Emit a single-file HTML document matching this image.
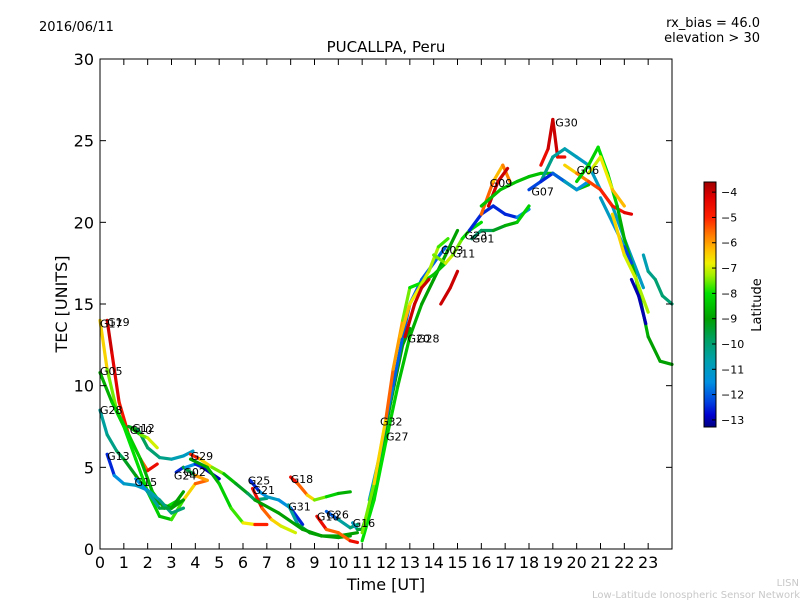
<!DOCTYPE html>
<html><head><meta charset="utf-8"><style>
body{margin:0;background:#fff;}
svg text{font-family:"DejaVu Sans","Liberation Sans",sans-serif;}
</style></head><body>
<svg id="chart" width="800" height="600" xmlns="http://www.w3.org/2000/svg">
<defs><linearGradient id="jetg" x1="0" y1="1" x2="0" y2="0"></linearGradient></defs>
<text x="39" y="31" font-size="13">2016/06/11</text>
<text x="760" y="27" font-size="13" text-anchor="end">rx_bias = 46.0</text>
<text x="760" y="42" font-size="13" text-anchor="end">elevation &gt; 30</text>
<text x="386" y="52" font-size="15" text-anchor="middle">PUCALLPA, Peru</text>
<text x="386" y="590" font-size="16" text-anchor="middle">Time [UT]</text>
<text x="0" y="0" font-size="16" text-anchor="middle" transform="translate(67,304) rotate(-90)">TEC [UNITS]</text>
<text x="0" y="0" font-size="13" text-anchor="middle" transform="translate(761,305) rotate(-90)">Latitude</text>
<text x="799" y="586" font-size="10" fill="#c8c8c8" text-anchor="end">LISN</text>
<text x="800" y="598" font-size="10" fill="#c8c8c8" text-anchor="end">Low-Latitude Ionospheric Sensor Network</text>
<g id="plot"></g>
<rect x="100" y="59" width="572" height="490" fill="none" stroke="#000" stroke-width="1"/>
<g id="axes"></g>
<rect x="704" y="182" width="12" height="245" fill="url(#jetg)" stroke="#000" stroke-width="1"/>
<g id="cbticks"></g>
</svg>
<script>
const xTicks=[0,1,2,3,4,5,6,7,8,9,10,11,12,13,14,15,16,17,18,19,20,21,22,23];
const yTicks=[0,5,10,15,20,25,30];
const cbTicks=[-4,-5,-6,-7,-8,-9,-10,-11,-12,-13];
const trackNames=["G19","G17","G05","G28","G13","G12","G10","G15","G24","G02","G29","Gx1","G25","G21","G31","G18","Gx2","G10b","G26","G16","G32","G27","Gx3","G20","G03","Gx4","Gx5","G23","G01","G09","Gx6","Gx7","G30","Gx8","Gx9","G06","Gx10","Gx11","Gx12","Gx13","Gx14","Gx15"];
const trackTimes=[
[0.3,0.5,0.8,1.2,1.7,2.0,2.4],
[0,0.3,0.7,1.2,1.7,2.2,2.7,3.3],
[0,0.5,1,1.5,2,2.5,3,3.5,4,4.5],
[0,0.3,0.7,1,1.5,2,2.5,3,3.5],
[0.3,0.6,1,1.5,2,2.5,3,3.5],
[1.2,1.6,2,2.5,3,3.5,3.9],
[1.3,1.7,2.0,2.4],
[1.5,2,2.5,3,3.5],
[3.2,3.5,4,4.5],
[3.6,4,4.3,5],
[3.8,4.2,4.7,5.2,5.7,6.2,6.5,7],
[3.8,4.5,5,5.5,6,6.5,7],
[6.3,6.7,7,7.5,8,8.5],
[6.4,6.8,7.2,7.6,8.2],
[7.9,8.3,8.8,9.3,10,10.5],
[8.0,8.3,8.7,9,9.5,10,10.5],
[6.5,7.5,8.5,9.3,10,10.8],
[9.1,9.5,10,10.5,10.8],
[9.5,10,10.5,10.8],
[10.6,10.8,11,11.4,11.8,12.2,12.7,13.0],
[11.3,11.7,12,12.3,12.7,13,13.5,14,14.5],
[11,11.5,12,12.5,13,13.5,14,14.5,15],
[11,11.5,12,12.3,12.7,13,13.5,14,14.5],
[12.6,13,13.4,13.8,14.2,14.6],
[14,14.5,14.8,15.2,15.5,16],
[12.8,13.2,13.5,13.8],
[14.3,14.7,15],
[15.5,16,16.5,17,17.5,18],
[15.6,16,16.5,17,17.5,18],
[16,16.5,16.9,17.2],
[16.3,16.7,17.1],
[16,16.8,17.5,18,18.5,19,19.5,20,20.5],
[18.5,18.8,19,19.2,19.5],
[18.5,19,19.5,20,20.5,21,21.5,22,22.8],
[18,18.5,19,19.5,20,20.5],
[19.5,20,20.5,21,21.5,22,22.3],
[20,20.5,20.9,21.3,21.7,22,22.5,23,23.5,24],
[20.5,21,21.5,22],
[21,21.5,22,22.3],
[22.8,23,23.3,23.6,24],
[21.5,22,22.5,23],
[22.3,22.6,22.9]];
const trackTec=[
[14,12,9,7,5.5,4.8,5.2],
[14,11,8.5,7,5.5,3.5,2.5,3],
[10.8,9,7.5,5.5,3.5,2,1.8,3,4,4.2],
[8.5,7,6,5.5,4.5,3.5,2.8,2.5,3],
[5.8,4.5,4,3.9,3.6,3.0,2.2,2.5],
[7.5,7.3,6.2,5.6,5.5,5.7,6],
[7.4,7,6.8,6.2],
[4.3,3.5,2.5,2.5,3.5],
[4.7,5,4.5,4.2],
[5,5.2,5,4.3],
[5.8,5.5,5,4.6,4,3.4,3,3.1],
[5.5,5,4,2.5,1.6,1.5,1.5],
[4.2,3.5,3.2,3,2.5,1.5],
[3.7,2.5,1.8,1.4,1.0],
[2.7,1.5,1.0,0.8,0.7,0.8],
[4.4,4,3.3,3,3.2,3.4,3.5],
[3,2.2,1.2,0.8,0.8,1],
[2,1.2,1.0,0.5,0.4],
[2.3,1.8,1.3,1.5],
[1.6,1.2,1.2,3,6,9,12.5,13.5],
[3,5.5,7.9,10,13,15,16.5,17.5,18.5],
[0.5,3,6.6,10,13,15,16.5,18,19.5],
[1,4,8,11,14,16,16.3,16.8,17.5],
[13,15,16,17,18.5,19],
[18,17.5,18,19,19.5,20],
[13,15,16,16.5],
[15,16,17],
[19.5,20.5,21,20.5,20.3,20.8],
[19,19.5,19.5,19.8,20,21],
[20.5,22.5,23.5,22.5],
[21,22.5,23.3],
[21,22,22.5,22.8,23,23,22.5,22,22.3],
[23.5,24.5,26.3,24,24],
[22.5,24,24.5,24,23.5,22,21,19,16],
[22,22.5,23,22.5,22,22.5],
[23.5,23,22.5,22,21,20.6,20.5],
[22.5,23.5,24.6,23,21,19,16.5,13,11.5,11.3],
[23,24,22,21],
[21.5,20,18.5,17.5],
[18,17,16.5,15.5,15],
[20.5,18,16.5,14.5],
[16.5,15.5,13.8]];
const trackLat=[
[-4,-4,-4.5,-5,-6,-5,-4],
[-6,-7,-8,-8,-8.5,-9,-8,-8],
[-9,-8.5,-8,-8,-8,-8.5,-8.5,-7,-6,-5],
[-10.5,-10.5,-10,-9.5,-9,-9,-9,-9,-9],
[-13,-12,-11,-11,-11,-10.5,-10,-10],
[-9,-9.5,-10,-10,-10.5,-11,-11],
[-9,-8,-7,-7],
[-12,-11,-10,-9,-9],
[-13,-12,-7,-5],
[-11,-12,-13,-13],
[-4,-6,-7,-8,-9,-9.5,-10,-10],
[-9,-9,-8.5,-8,-7.5,-6,-4],
[-13,-12,-11,-11,-12,-13],
[-4,-5,-6,-7,-7],
[-11,-10,-9,-9,-9,-9],
[-4,-5,-6,-7,-8,-8.5,-9],
[-9,-9,-9,-9,-9,-9],
[-4,-5,-6,-5,-4],
[-13,-11,-10,-10],
[-12,-10,-9,-9,-9,-9,-9,-9],
[-11,-11,-11.5,-12,-12,-12,-12,-12,-12],
[-8,-8,-8,-8.5,-8.5,-9,-9,-9,-9],
[-8,-7,-6,-5,-7,-8,-8,-8.5,-8.5],
[-6,-6.5,-7,-7,-7.5,-8],
[-8,-7,-7,-8,-8,-8],
[-4,-4,-4,-4],
[-4,-4,-4],
[-12,-13,-12,-13,-12,-11],
[-10,-10,-9.5,-9,-8.5,-8],
[-5,-6,-6.5,-5],
[-4,-4,-4],
[-8.5,-8.5,-8.5,-8.5,-8.5,-8.5,-8.5,-8.5,-8.5],
[-5,-4,-4,-4,-5],
[-10,-10.5,-10.5,-11,-11,-11,-11,-11,-11],
[-12.5,-12,-13,-11,-11,-12],
[-7,-6,-5.5,-5,-5,-4.5,-4],
[-8,-8.5,-8,-8,-8.5,-9,-8.5,-9,-9,-9],
[-7,-7,-6.5,-6],
[-11,-11,-12,-12.5],
[-11,-10.5,-10,-10,-10],
[-6,-7,-7,-7.5],
[-13,-13,-13]];
const labelNames=["G17","G19","G05","G28","G13","G10","G12","G15","G24","G02","G29","G25","G21","G18","G31","G10","G26","G16","G32","G27","G20","G28","G03","G11","G23","G01","G09","G07","G30","G06"];
const labelT=[0,0.3,0,0,0.3,1.25,1.35,1.45,3.1,3.5,3.8,6.2,6.4,8.0,7.9,9.1,9.5,10.6,11.75,12.0,12.9,13.3,14.3,14.8,15.3,15.6,16.35,18.1,19.1,20.0];
const labelTec=[13.8,13.9,10.9,8.5,5.7,7.3,7.4,4.1,4.5,4.7,5.7,4.2,3.6,4.3,2.6,2.0,2.1,1.6,7.8,6.9,12.9,12.9,18.3,18.1,19.2,19.0,22.4,21.9,26.1,23.2];
const cbMin=-13.28,cbMax=-3.6;
const cmapLat=[-13.3,-12.8,-12.3,-11.5,-10.7,-9.8,-9,-8,-7.3,-6.8,-6.3,-5.6,-5,-4.2,-3.6];
const cmapCol=[[0,0,128],[0,0,208],[0,64,224],[0,144,224],[0,160,176],[0,160,96],[0,160,0],[0,224,0],[160,240,0],[240,240,0],[255,192,0],[255,112,0],[255,32,0],[224,0,0],[160,0,0]];
const X=t=>100+t*572/24, Y=v=>549-v*490/30;
const CY=l=>427-(l-cbMin)*245/(cbMax-cbMin);
function jet(l){
 if(l<=cmapLat[0])return `rgb(${cmapCol[0]})`;
 for(let i=0;i<cmapLat.length-1;i++){if(l<=cmapLat[i+1]){const f=(l-cmapLat[i])/(cmapLat[i+1]-cmapLat[i]);
  const c=cmapCol[i].map((v,k)=>Math.round(v+(cmapCol[i+1][k]-v)*f));return `rgb(${c})`;}}
 return `rgb(${cmapCol[cmapCol.length-1]})`;}
const NS="http://www.w3.org/2000/svg";
const plot=document.getElementById('plot'),axes=document.getElementById('axes'),cbt=document.getElementById('cbticks');
function mk(tag,at,parent){const e=document.createElementNS(NS,tag);for(const k in at)e.setAttribute(k,at[k]);parent.appendChild(e);return e;}
const grad=document.getElementById('jetg');
cmapLat.forEach((l,i)=>{mk('stop',{offset:Math.max(0,Math.min(1,(l-cbMin)/(cbMax-cbMin))),'stop-color':`rgb(${cmapCol[i]})`},grad);});
trackTimes.forEach((ts,i)=>{
 const g=mk('g',{},plot);
 
 
 for(let j=0;j<ts.length-1;j++){
  const s=mk('line',{x1:X(ts[j]),y1:Y(trackTec[i][j]),x2:X(ts[j+1]),y2:Y(trackTec[i][j+1]),stroke:jet((trackLat[i][j]+trackLat[i][j+1])/2),'stroke-width':3.2,'stroke-linecap':'round'},g);
  
  
 }
});
labelNames.forEach((n,i)=>{
 const t=mk('text',{x:X(labelT[i]),y:Y(labelTec[i])+4,'font-size':11},plot);
 t.textContent=n;
 
 
});
xTicks.forEach(v=>{
 mk('line',{x1:X(v),x2:X(v),y1:549,y2:543,stroke:'#000'},axes);
 mk('line',{x1:X(v),x2:X(v),y1:59,y2:65,stroke:'#000'},axes);
 const t=mk('text',{x:X(v),y:568,'font-size':16,'text-anchor':'middle'},axes);
 t.textContent=v;
 
 
});
yTicks.forEach(v=>{
 mk('line',{x1:100,x2:106,y1:Y(v),y2:Y(v),stroke:'#000'},axes);
 mk('line',{x1:672,x2:666,y1:Y(v),y2:Y(v),stroke:'#000'},axes);
 const t=mk('text',{x:94,y:Y(v)+6,'font-size':16,'text-anchor':'end'},axes);
 t.textContent=v;
 
 
});
cbTicks.forEach(v=>{
 mk('line',{x1:712,x2:716,y1:CY(v),y2:CY(v),stroke:'#000'},cbt);
 const t=mk('text',{x:721,y:CY(v)+4,'font-size':11},cbt);
 t.textContent='\u2212'+Math.abs(v);
 
 
});
</script>
</body></html>
